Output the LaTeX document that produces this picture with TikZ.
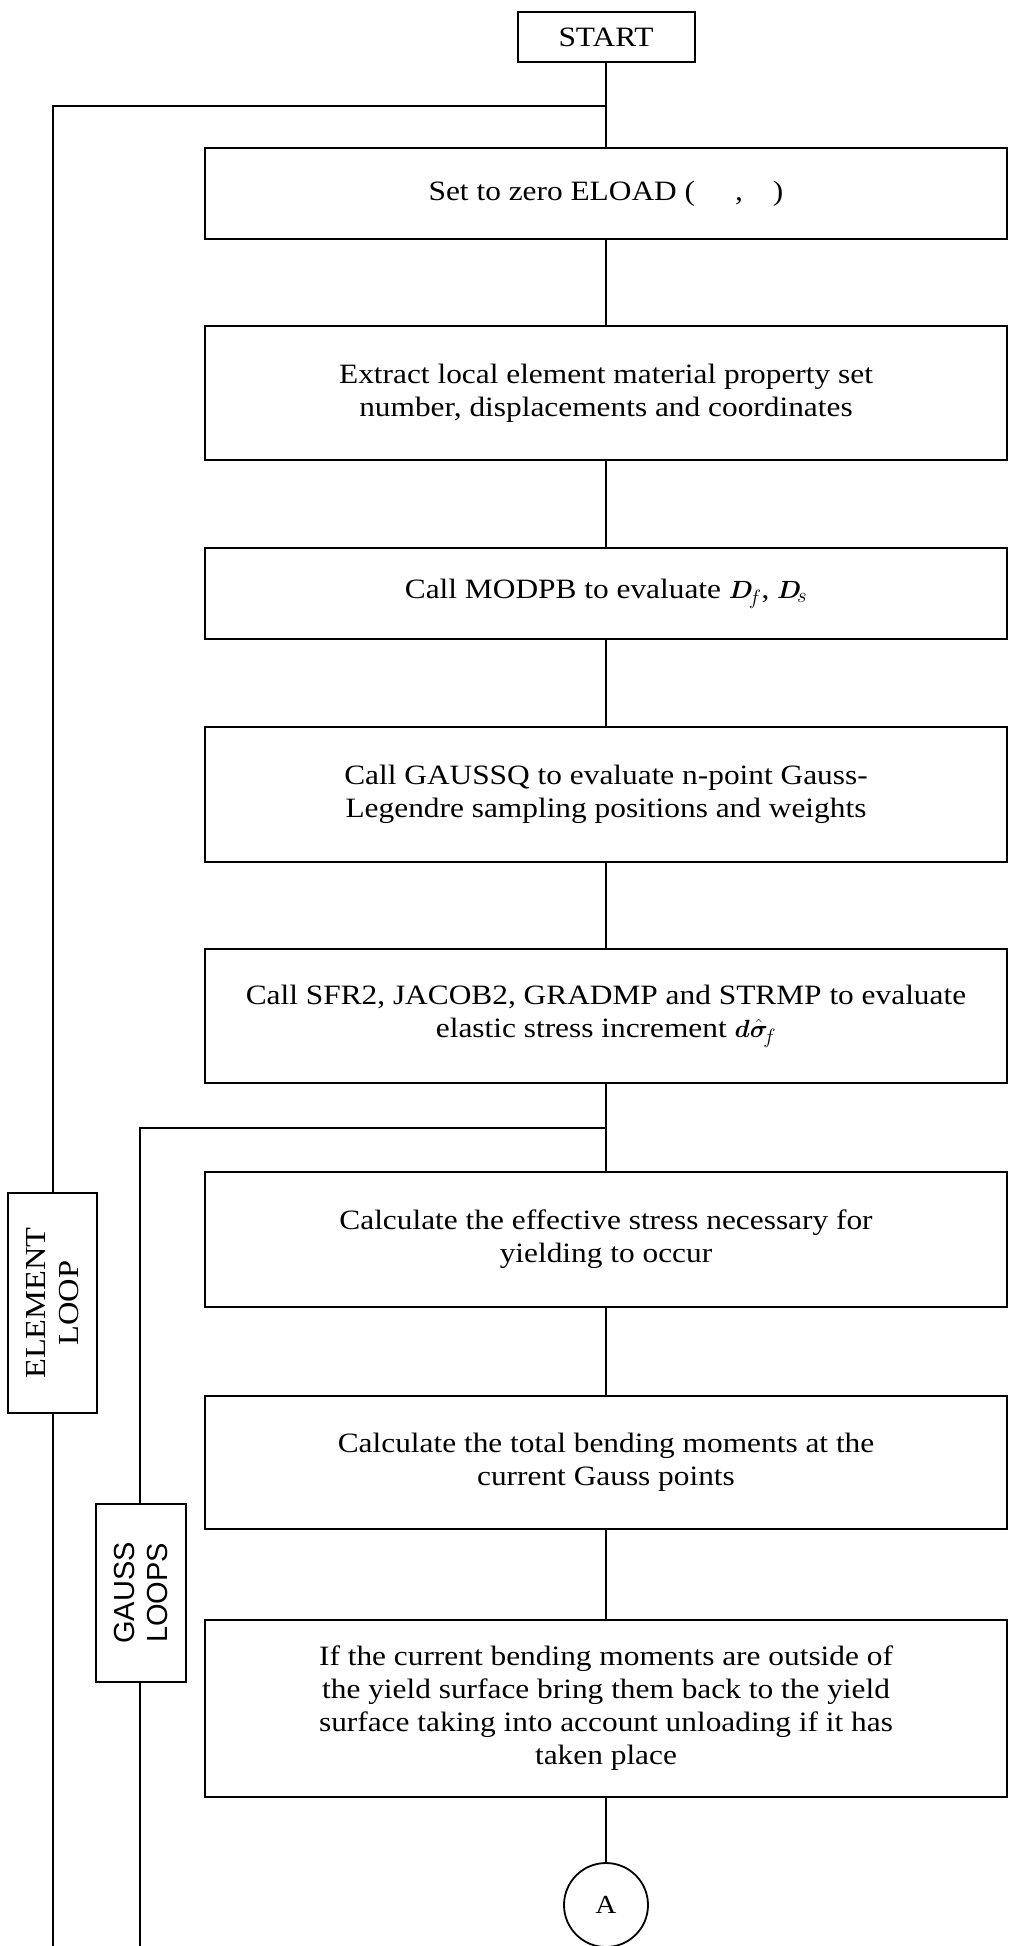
\documentclass[tikz,border=0pt]{standalone}
\usepackage{fontspec}
\usepackage{bm}
\setmainfont{Liberation Serif}[FakeStretch=1.12]
\newfontfamily\gaussfont{Liberation Sans}
\begin{document}
\begin{tikzpicture}[x=1pt,y=-1pt,
  box/.style={draw,line width=2.5pt,rectangle,minimum width=802pt,align=center,
    inner sep=0pt,font=\fontsize{28}{33}\selectfont},
  startbox/.style={draw,line width=2pt,rectangle,minimum width=177pt,minimum height=50pt,
    inner sep=0pt,font=\fontsize{28}{33}\selectfont},
  loopbox/.style={draw,fill=white,line width=2.3pt,rectangle,inner sep=0pt,align=center},
  conn/.style={line width=1.8pt},
  connector/.style={draw,circle,line width=1.8pt,minimum size=84pt,inner sep=0pt,
    font=\fontsize{26}{30}\selectfont}]
\useasboundingbox (0,0) rectangle (1012,1946);

\node[startbox] (start) at (606,37) {START};
\node[box,minimum height=91pt]  (b1) at (606,193.5) {Set to zero ELOAD (\hspace{40pt},\hspace{30pt})};
\node[box,minimum height=134pt] (b2) at (606,393) {Extract local element material property set\\number, displacements and coordinates};
\node[box,minimum height=91pt]  (b3) at (606,593.5) {Call MODPB to evaluate $\bm{D}_{\!f}$, $\bm{D}_{\!s}$};
\node[box,minimum height=135pt] (b4) at (606,794.5) {Call GAUSSQ to evaluate n-point Gauss-\\Legendre sampling positions and weights};
\node[box,minimum height=134pt] (b5) at (606,1016) {Call SFR2, JACOB2, GRADMP and STRMP to evaluate\\elastic stress increment $\bm{d\hat{\sigma}}_{\!f}$};
\node[box,minimum height=135pt] (b6) at (606,1239.5) {Calculate the effective stress necessary for\\yielding to occur};
\node[box,minimum height=133pt] (b7) at (606,1462.5) {Calculate the total bending moments at the\\current Gauss points};
\node[box,minimum height=177pt] (b8) at (606,1708.5) {If the current bending moments are outside of\\the yield surface bring them back to the yield\\surface taking into account unloading if it has\\taken place};
\node[connector] (ca) at (606,1905) {A};

\node[loopbox,minimum width=89pt,minimum height=220pt] (elem) at (52.5,1303) {};
\node[rotate=90,align=center,font=\fontsize{29}{33}\selectfont] (elemtxt) at (elem.center) {ELEMENT\\LOOP};
\node[loopbox,minimum width=90pt,minimum height=178pt] (gbox) at (141,1593) {};
\node[rotate=90,align=center,font=\gaussfont\fontsize{29}{33}\selectfont] (gtxt) at (gbox.center) {GAUSS\\LOOPS};

\coordinate (j1) at (606,106);
\coordinate (etop) at (53,106);
\coordinate (ebot) at (53,1946);
\coordinate (j2) at (606,1128);
\coordinate (gtop) at (140,1128);
\coordinate (gbot) at (140,1946);

\draw[conn] (start.south) -- (b1.north);
\draw[conn] (b1.south) -- (b2.north);
\draw[conn] (b2.south) -- (b3.north);
\draw[conn] (b3.south) -- (b4.north);
\draw[conn] (b4.south) -- (b5.north);
\draw[conn] (b5.south) -- (b6.north);
\draw[conn] (b6.south) -- (b7.north);
\draw[conn] (b7.south) -- (b8.north);
\draw[conn] (b8.south) -- (ca.north);

\draw[conn] (j1) -- (etop) -- (etop |- elem.north);
\draw[conn] (ebot |- elem.south) -- (ebot);
\draw[conn] (j2) -- (gtop) -- (gtop |- gbox.north);
\draw[conn] (gbot |- gbox.south) -- (gbot);
\end{tikzpicture}
\end{document}
